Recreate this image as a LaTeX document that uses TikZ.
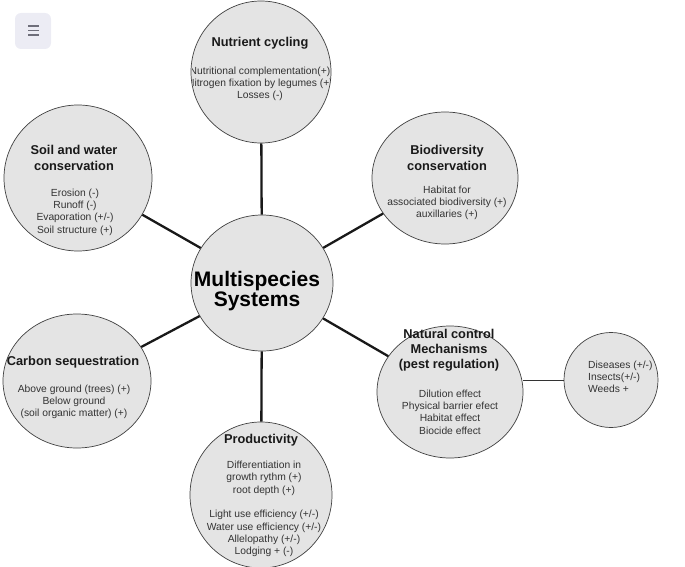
\documentclass[tikz,border=0pt]{standalone}
\usepackage{fontspec}
\setmainfont{Liberation Sans}
\usetikzlibrary{shapes.geometric}
\definecolor{bubfill}{HTML}{E4E4E4}
\definecolor{iconbg}{HTML}{ECECF4}
\definecolor{iconline}{HTML}{6E6E7A}
\begin{document}
\begin{tikzpicture}[x=1pt,y={(0pt,-1pt)},
  bub/.style={ellipse, draw=black!75, line width=0.7pt, fill=bubfill, inner sep=0pt},
  conn/.style={line width=2.3pt, black!90},
  thinconn/.style={line width=0.7pt, black!80},
  ttl/.style={font=\fontsize{12.8}{15.2}\selectfont\bfseries, align=center, text=black!90, inner sep=0pt},
  body/.style={font=\fontsize{10.3}{12.3}\selectfont, align=center, text=black!80, inner sep=0pt},
  bigttl/.style={font=\fontsize{21}{18}\selectfont\bfseries, align=center, text=black, inner sep=0pt}]
\useasboundingbox (0,0) rectangle (685,567);
% menu icon
\node[draw=none, fill=iconbg, rounded corners=6pt, minimum width=36pt, minimum height=36pt, inner sep=0pt] (icon) at (33,31) {};
\foreach \yy in {26,30.5,35} \draw[iconline, line width=1.4pt] (28,\yy) -- (39,\yy);
% bubbles
\node[bub, minimum width=140pt, minimum height=142pt] (nc) at (261,72) {};
\node[bub, minimum width=148pt, minimum height=146pt] (sw) at (78,178) {};
\node[bub, minimum width=146pt, minimum height=132pt] (bd) at (445,178) {};
\node[bub, minimum width=142pt, minimum height=136pt] (ms) at (262,283) {};
\node[bub, minimum width=148pt, minimum height=134pt] (cs) at (77,381) {};
\node[bub, minimum width=146pt, minimum height=132pt] (nm) at (450,392) {};
\node[bub, minimum width=94pt, minimum height=95pt] (ds) at (611,380) {};
\node[bub, minimum width=142pt, minimum height=146pt] (pr) at (261,495) {};
% connectors
\draw[conn] (nc) -- (ms);
\draw[conn] (sw) -- (ms);
\draw[conn] (bd) -- (ms);
\draw[conn] (cs) -- (ms);
\draw[conn] (nm) -- (ms);
\draw[conn] (pr) -- (ms);
\draw[thinconn] (ds.west) -- (nm.east |- ds.west);
% texts
\node[ttl] (nct) at (260,43) {Nutrient cycling};
\begin{scope}
\clip (261,72) ellipse (69.5pt and 70.5pt);
\node[body] (ncb) at (260,84) {Nutritional complementation(+)\\Nitrogen fixation by legumes (+)\\Losses (-)};
\end{scope}
\node[ttl] (swt) at (74,158) {Soil and water\\conservation};
\node[body] (swb) at (75,212) {Erosion (-)\\Runoff (-)\\Evaporation (+/-)\\Soil structure (+)};
\node[ttl] (bdt) at (447,158) {Biodiversity\\conservation};
\node[body] (bdb) at (447,203) {Habitat for\\associated biodiversity (+)\\auxillaries (+)};
\node[bigttl] (mst) at (257,291) {Multispecies\\Systems};
\node[ttl] (cst) at (73,362) {Carbon sequestration};
\node[body] (csb) at (74,402) {Above ground (trees) (+)\\Below ground\\(soil organic matter) (+)};
\node[ttl] (nmt) at (449,350) {Natural control\\Mechanisms\\(pest regulation)};
\node[body] (nmb) at (450,412) {Dilution effect\\Physical barrier efect\\Habitat effect\\Biocide effect};
\node[body, align=left, anchor=west] (dsb) at (588,377) {Diseases (+/-)\\Insects(+/-)\\Weeds +};
\node[ttl] (prt) at (261,440) {Productivity};
\node[body] (prb) at (264,509) {Differentiation in\\growth rythm (+)\\root depth (+)\\[12.3pt]Light use efficiency (+/-)\\Water use efficiency (+/-)\\Allelopathy (+/-)\\Lodging + (-)};
\end{tikzpicture}
\end{document}
